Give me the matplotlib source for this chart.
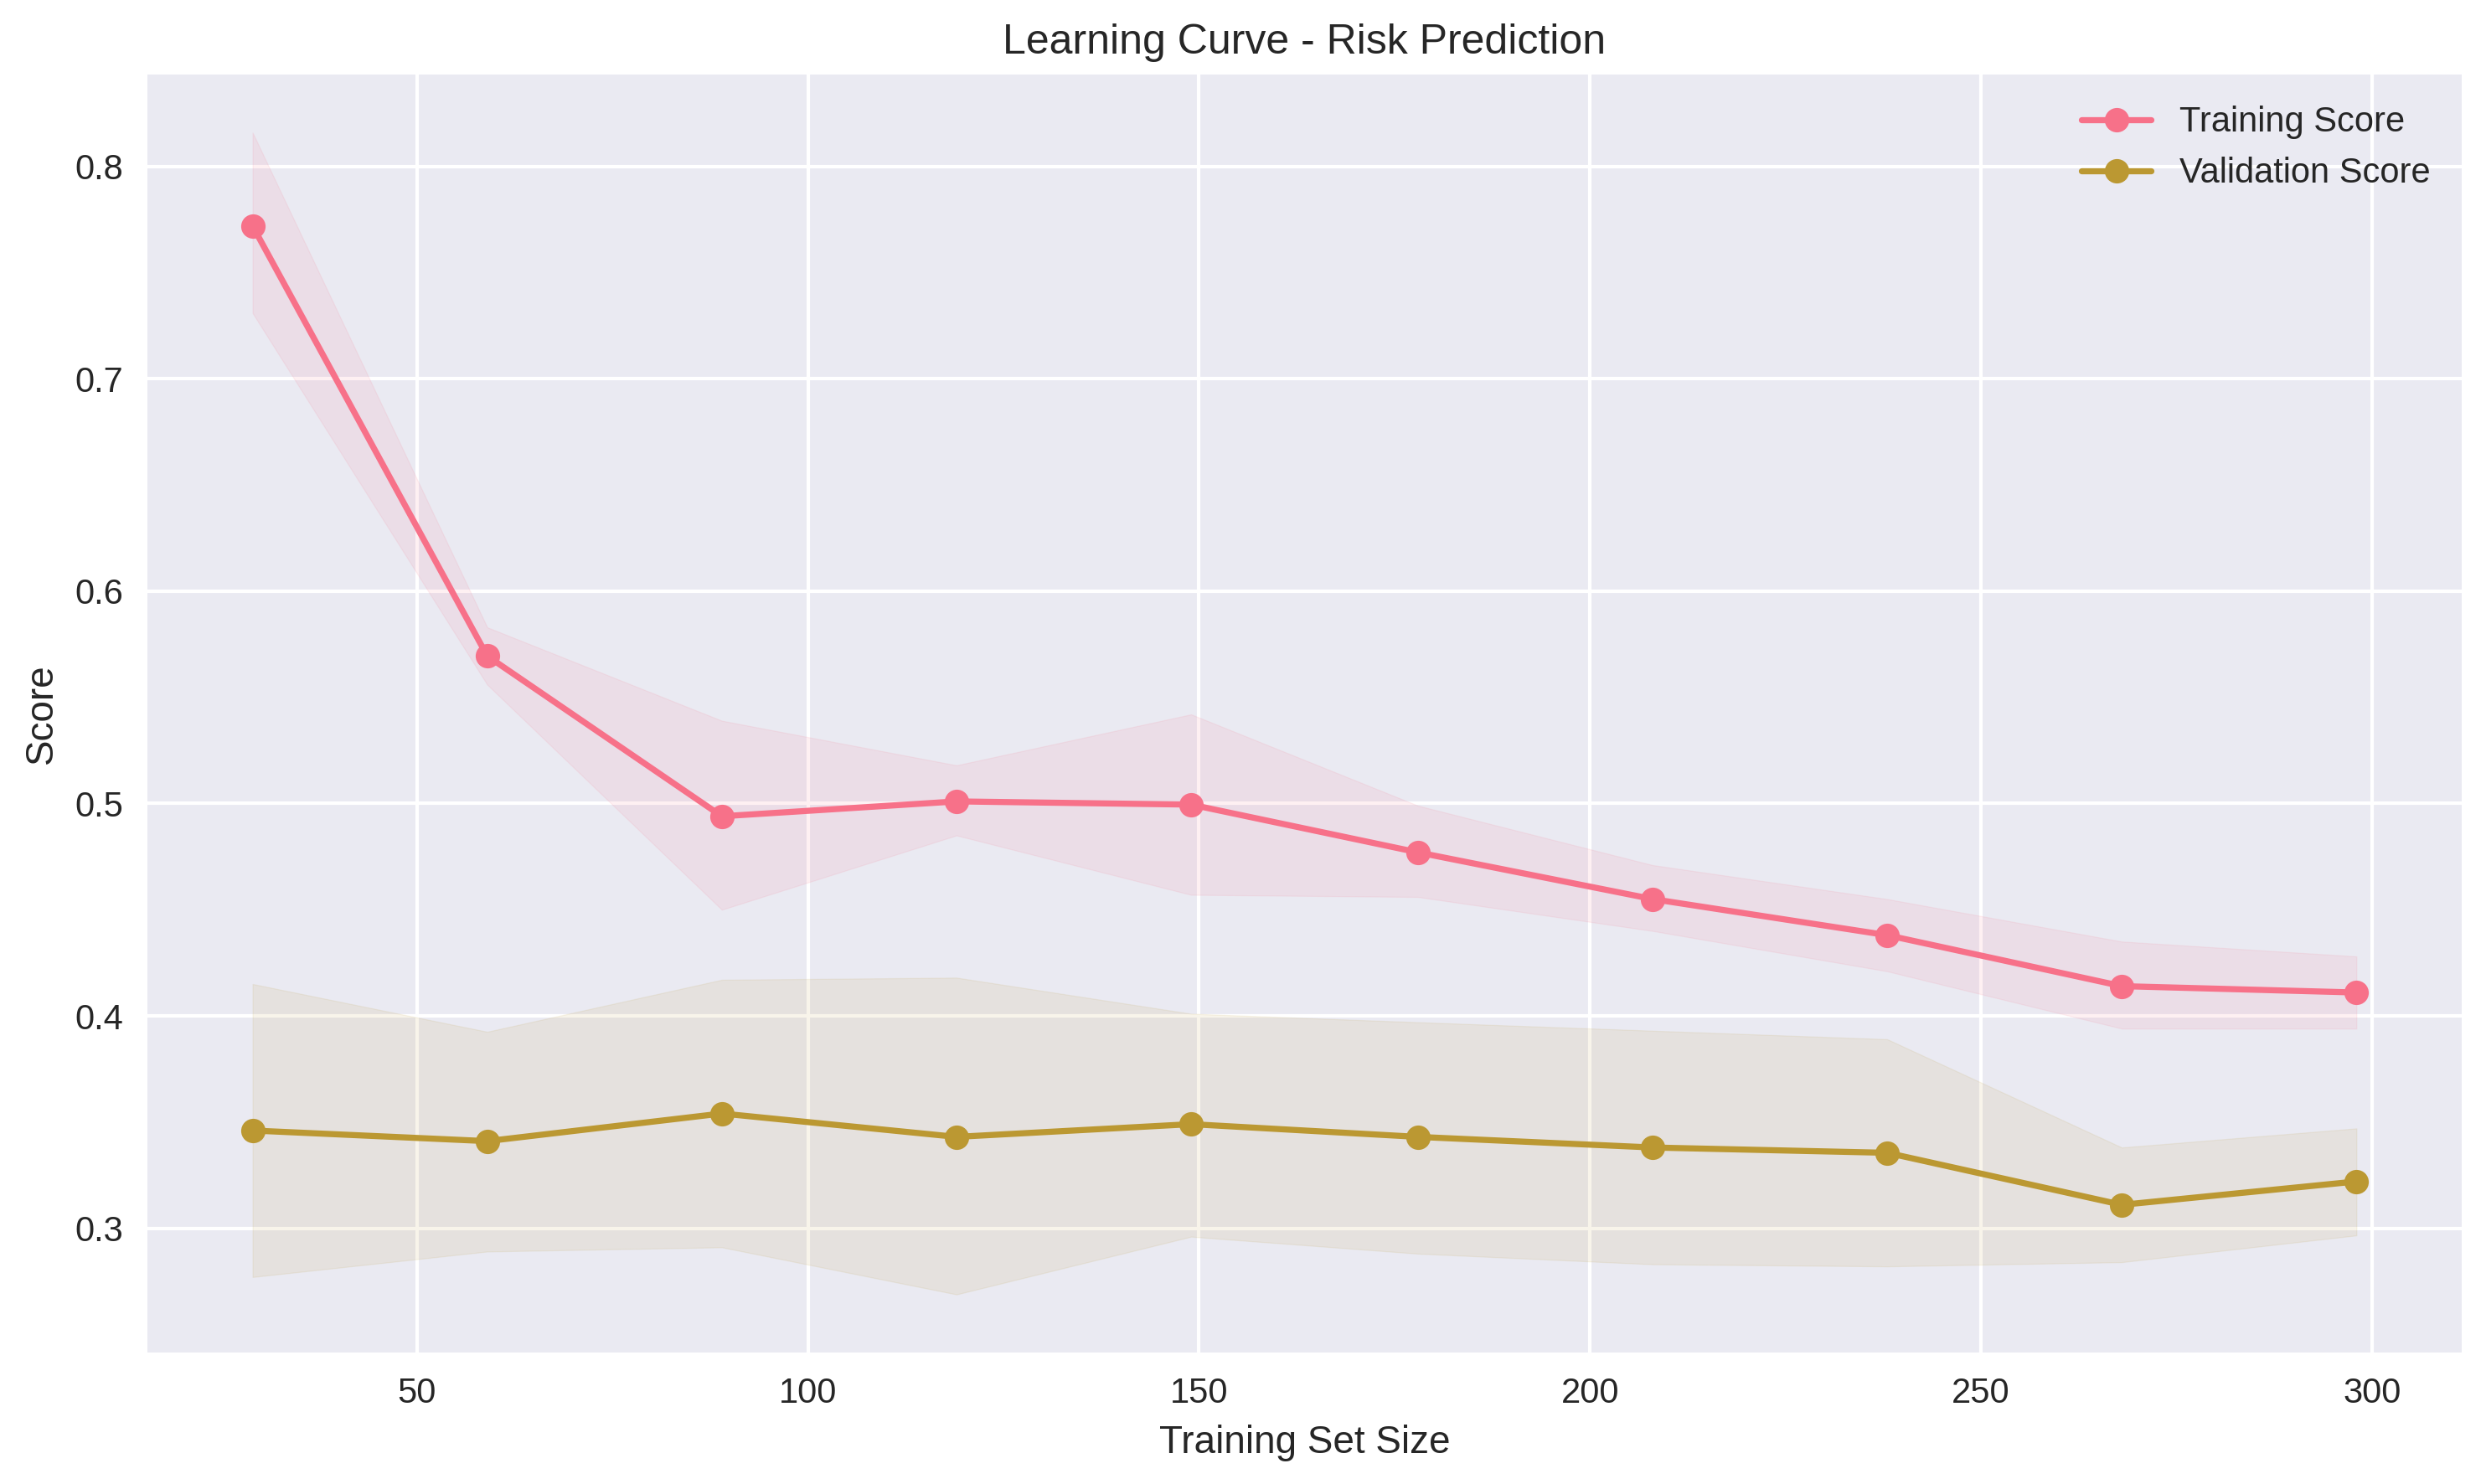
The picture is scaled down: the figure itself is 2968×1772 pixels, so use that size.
# -*- coding: utf-8 -*-
"""
Learning Curve - Risk Prediction
"""

# ============================================================
# Import Libraries
# ============================================================

import numpy as np
import matplotlib
matplotlib.use("Agg")
import matplotlib.pyplot as plt
import seaborn as sns

# ============================================================
# Data
# ============================================================

train_sizes = [29, 59, 89, 119, 149, 178, 208, 238, 268, 298]

train_mean = [0.772, 0.5695, 0.494, 0.501, 0.4995, 0.477, 0.455, 0.438, 0.414, 0.411]
train_upper = [0.816, 0.583, 0.539, 0.518, 0.542, 0.499, 0.471, 0.455, 0.435, 0.428]
train_lower = [0.731, 0.556, 0.450, 0.485, 0.457, 0.456, 0.440, 0.421, 0.394, 0.394]

val_mean = [0.346, 0.341, 0.354, 0.343, 0.349, 0.343, 0.338, 0.3355, 0.311, 0.322]
val_upper = [0.415, 0.3925, 0.417, 0.418, 0.401, 0.397, 0.393, 0.389, 0.338, 0.347]
val_lower = [0.277, 0.289, 0.291, 0.2688, 0.296, 0.288, 0.283, 0.282, 0.284, 0.2966]

# ============================================================
# Style
# ============================================================

plt.style.use("seaborn-v0_8")
sns.set_palette("husl")
colors = sns.color_palette("husl")

# ============================================================
# Plot
# ============================================================

fig = plt.figure(figsize=(2968 / 300, 1772 / 300), dpi=300)
ax = fig.add_subplot(111)
fig.subplots_adjust(left=0.0593, right=0.9902, top=0.9498, bottom=0.0886)

ax.plot(train_sizes, train_mean, 'o-', color=colors[0], label="Training Score")
ax.fill_between(train_sizes, train_lower, train_upper, color=colors[0], alpha=0.1)

ax.plot(train_sizes, val_mean, 'o-', color=colors[1], label="Validation Score")
ax.fill_between(train_sizes, val_lower, val_upper, color=colors[1], alpha=0.1)

ax.set_xlabel("Training Set Size")
ax.set_ylabel("Score")
ax.set_title("Learning Curve - Risk Prediction")
ax.legend(loc="best")

fig.savefig("out.png", dpi=300)
